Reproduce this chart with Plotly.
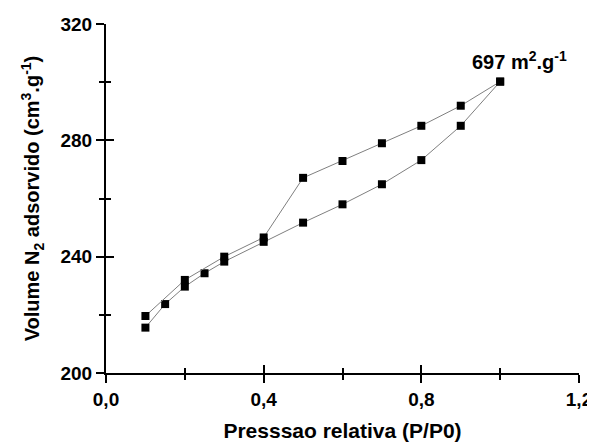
import plotly.graph_objects as go

# isoterma de adsorcao / dessorcao de N2
p_ads = [0.1, 0.15, 0.2, 0.25, 0.3, 0.4, 0.5, 0.6, 0.7, 0.8, 0.9, 1.0]
v_ads = [215.6, 223.7, 229.7, 234.3, 238.3, 245.1, 251.7, 258.0, 264.9, 273.2, 285.0, 300.2]

p_des = [1.0, 0.9, 0.8, 0.7, 0.6, 0.5, 0.4, 0.3, 0.2, 0.1]
v_des = [300.2, 291.9, 285.0, 279.0, 272.9, 267.1, 246.6, 240.0, 232.0, 219.6]

x_ticks = [0.0, 0.4, 0.8, 1.2]
x_labels = ["0,0", "0,4", "0,8", "1,2"]
y_ticks = [200, 240, 280, 320]

area = "697 m<sup>2</sup>.g<sup>-1</sup>"

fonte = dict(family="Arial, Liberation Sans", size=19, color="black", weight="bold")

marcador = dict(symbol="square", size=8, color="black")
linha = dict(color="#7f7f7f", width=1)

fig = go.Figure()
fig.add_trace(go.Scatter(x=p_ads, y=v_ads, mode="lines+markers",
                         marker=marcador, line=linha, name="adsorcao"))
# dessorcao nos eixos sobrepostos (usados tambem para os ticks internos)
fig.add_trace(go.Scatter(x=p_des, y=v_des, mode="lines+markers",
                         marker=marcador, line=linha, name="dessorcao",
                         xaxis="x2", yaxis="y2"))

eixo_x = dict(range=[0, 1.2], tickvals=x_ticks, ticktext=x_labels,
              showline=True, linecolor="black", linewidth=2,
              ticklen=8, tickwidth=2, tickcolor="black",
              showgrid=False, zeroline=False, automargin=False,
              minor=dict(dtick=0.2, tick0=0, ticklen=5, tickwidth=1.5,
                         tickcolor="black", showgrid=False))
eixo_y = dict(range=[200, 320], tickvals=y_ticks,
              showline=True, linecolor="black", linewidth=2,
              ticklen=8, tickwidth=2, tickcolor="black",
              showgrid=False, zeroline=False, automargin=False,
              minor=dict(dtick=20, tick0=200, ticklen=5, tickwidth=1.5,
                         tickcolor="black", showgrid=False))

# a pagina tem margem de 8px no body, por isso 587x437
fig.update_layout(
    width=587, height=437,
    margin=dict(l=98, r=16, t=16, b=72),
    plot_bgcolor="white", paper_bgcolor="white",
    showlegend=False,
    font=fonte,
    xaxis=dict(eixo_x, ticks="outside", minor_ticks="outside",
               tickfont=fonte,
               title=dict(text="Presssao relativa (P/P0)",
                          font=dict(fonte, size=21))),
    yaxis=dict(eixo_y, ticks="outside", minor_ticks="outside",
               tickfont=fonte,
               title=dict(text="Volume N<sub>2</sub> adsorvido (cm<sup>3</sup>.g<sup>-1</sup>)",
                          font=dict(fonte, size=20))),
    xaxis2=dict(eixo_x, ticks="inside", minor_ticks="inside",
                showticklabels=False, overlaying="x", anchor="y2"),
    yaxis2=dict(eixo_y, ticks="inside", minor_ticks="inside",
                showticklabels=False, overlaying="y", anchor="x2"),
    annotations=[dict(x=p_des[0], y=v_des[0], text=area, showarrow=False,
                      xanchor="left", yanchor="bottom", xshift=-30, yshift=7,
                      font=dict(fonte, size=20))],
)

fig.write_html("out.html")
